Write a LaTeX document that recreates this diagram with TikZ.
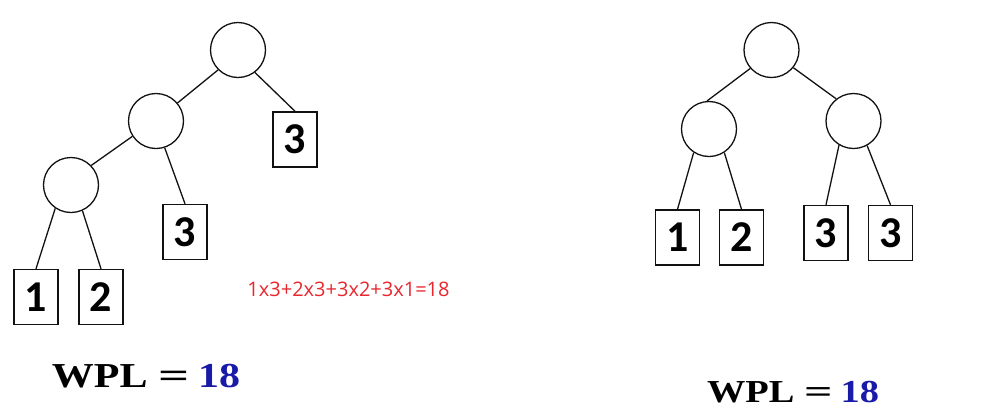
\documentclass[tikz,border=0pt]{standalone}
\usepackage{fontspec}
\setmainfont{Liberation Serif}
\newfontfamily\leaffont{Carlito}
\newfontfamily\calcfont{Open Sans}
\newfontfamily\wplfont[FakeStretch=1.2]{Liberation Serif}
\usetikzlibrary{positioning}
\definecolor{ink}{HTML}{111111}
\definecolor{wplblue}{HTML}{1A1AA8}
\definecolor{calcred}{HTML}{E8262E}
\newcommand{\wpllabel}{WPL\hspace{0.3em}\scalebox{1.3}[1]{=}\hspace{0.25em}\textcolor{wplblue}{18}}
\tikzset{
  edge/.style={
    draw=ink,
    line width=1.3pt
  },
  inner_node/.style={
    circle,
    draw=ink,
    line width=1.3pt,
    fill=white,
    minimum size=55pt,
    inner sep=0pt
  },
  leaf_block/.style={
    rectangle,
    draw=ink,
    line width=1.5pt,
    fill=white,
    minimum width=44pt,
    minimum height=55pt,
    inner sep=0pt,
    font=\leaffont\bfseries\fontsize{44}{44}\selectfont
  },
  wpl_text/.style={
    font=\wplfont\bfseries\fontsize{35}{35}\selectfont,
    text=black
  },
  calc_text/.style={
    font=\calcfont\fontsize{20}{20}\selectfont,
    text=calcred
  }
}

\begin{document}
\begin{tikzpicture}[x=1pt, y=-1pt]
  \useasboundingbox (0,0) rectangle (1001,408);

  % left tree
  \node[inner_node] (root) at (238,50) {};
  \node[inner_node] (mid) at (156,121) {};
  \node[inner_node] (low) at (71,185) {};
  \node[leaf_block] (r3) at (295,139.5) {3};
  \node[leaf_block] (m3) at (185,232) {3};
  \node[leaf_block] (l1) at (36,297) {1};
  \node[leaf_block] (l2) at (101,297) {2};

  \draw[edge] (root.225) -- (mid.40);
  \draw[edge] (root.307) -- (r3.north);
  \draw[edge] (mid.213) -- (low.44);
  \draw[edge] (mid.288) -- (m3.north);
  \draw[edge] (low.236) -- (l1.north);
  \draw[edge] (low.294) -- (l2.north);

  \node[calc_text] (calc) at (348.5,289.5) {1x3+2x3+3x2+3x1=18};
  \node[wpl_text] (wplleft) at (146,376) {\wpllabel};

  % right tree
  \node[inner_node] (troot) at (771.5,50) {};
  \node[inner_node] (tleft) at (709,129) {};
  \node[inner_node] (tright) at (853.5,121) {};
  \node[leaf_block] (t1) at (677.5,237.5) {1};
  \node[leaf_block] (t2) at (741.5,237.5) {2};
  \node[leaf_block] (t3) at (826,233) {3};
  \node[leaf_block] (t4) at (890.5,233) {3};

  \draw[edge] (troot.221) -- (tleft.94);
  \draw[edge] (troot.321) -- (tright.128);
  \draw[edge] (tleft.237) -- (t1.north);
  \draw[edge] (tleft.303) -- (t2.north);
  \draw[edge] (tright.239) -- (t3.north);
  \draw[edge] (tright.299) -- (t4.north);

  \node[wpl_text, font=\wplfont\bfseries\fontsize{32}{32}\selectfont] (wplright) at (793,392) {\wpllabel};
\end{tikzpicture}
\end{document}
